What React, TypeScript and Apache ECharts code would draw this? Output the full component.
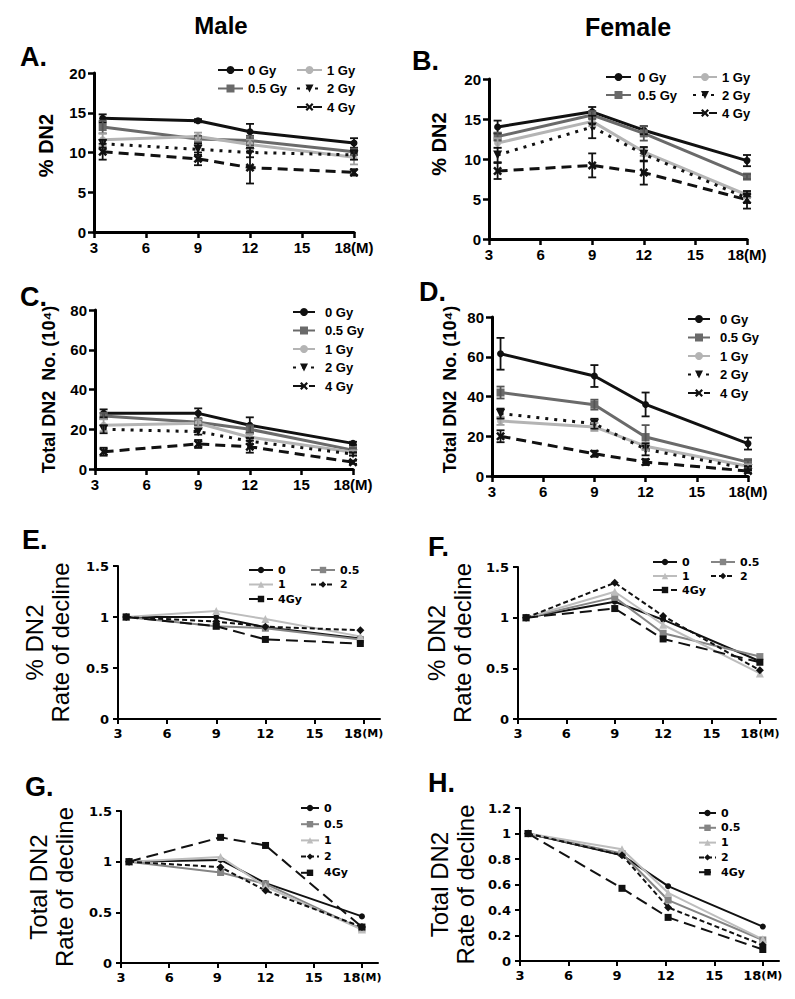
import React, { useEffect, useRef } from "react";
import * as echarts from "echarts";

// ---------------- data ----------------
const xTicks = [3, 6, 9, 12, 15, 18];
const monthsAD = [3.5, 9, 12, 18];
const monthsE = [3.5, 9, 12, 17.8];
const monthsF = [3.5, 9, 12, 18];
const monthsG = [3.5, 9.2, 12, 18];
const monthsH = [3.5, 9.3, 12.15, 18];

const doseLabelsAD = ["0 Gy", "0.5 Gy", "1 Gy", "2 Gy", "4 Gy"];
const doseLabelsEH = ["0", "0.5", "1", "2", "4Gy"];

// A. Male % DN2
const maleDN2Mean = [
  [14.3, 14.0, 12.6, 11.2],
  [13.2, 11.7, 11.5, 10.1],
  [11.6, 12.0, 11.0, 9.4],
  [11.1, 10.4, 10.0, 9.7],
  [10.1, 9.2, 8.1, 7.5],
];
const maleDN2Err = [
  [0.5, 0.2, 1.0, 0.6],
  [0.8, 0.4, 0.6, 0.4],
  [0.8, 0.5, 0.6, 0.9],
  [0.5, 0.7, 0.6, 0.6],
  [1.0, 0.8, 2.0, 0.4],
];
// B. Female % DN2
const femaleDN2Mean = [
  [14.0, 15.9, 13.6, 9.8],
  [12.8, 15.5, 13.2, 7.8],
  [12.0, 14.7, 10.9, 5.5],
  [10.5, 14.0, 10.6, 5.1],
  [8.5, 9.2, 8.3, 4.9],
];
const femaleDN2Err = [
  [0.8, 0.6, 0.5, 0.7],
  [0.5, 0.5, 0.9, 0.3],
  [0.6, 0.6, 0.5, 0.4],
  [0.9, 1.4, 0.9, 0.6],
  [1.0, 1.5, 1.5, 1.1],
];
// C. Male total DN2 number (10^4)
const maleTotalMean = [
  [28.0, 28.0, 22.0, 12.9],
  [26.7, 23.5, 20.0, 9.5],
  [22.0, 23.0, 16.0, 8.4],
  [20.0, 18.8, 14.0, 7.5],
  [8.7, 12.6, 11.2, 3.4],
];
const maleTotalErr = [
  [2.0, 2.5, 4.0, 0.8],
  [1.5, 1.5, 2.0, 1.0],
  [3.0, 2.0, 1.5, 1.0],
  [2.0, 1.5, 1.5, 0.8],
  [2.0, 2.0, 3.0, 0.8],
];
// D. Female total DN2 number (10^4)
const femaleTotalMean = [
  [61.5, 50.3, 36.0, 16.3],
  [42.0, 35.9, 19.6, 7.0],
  [27.7, 24.7, 15.0, 4.9],
  [31.4, 26.3, 13.4, 3.7],
  [20.0, 11.2, 7.0, 2.5],
];
const femaleTotalErr = [
  [8.0, 5.5, 6.0, 3.0],
  [3.0, 2.5, 6.0, 1.0],
  [2.0, 2.0, 2.0, 1.0],
  [2.5, 2.5, 3.0, 1.0],
  [3.0, 1.5, 1.5, 1.0],
];
// E. Male % DN2 rate of decline
const maleDN2Rate = [
  [1.0, 1.0, 0.9, 0.79],
  [1.0, 0.91, 0.89, 0.78],
  [1.0, 1.06, 0.98, 0.81],
  [1.0, 0.955, 0.905, 0.87],
  [1.0, 0.91, 0.78, 0.74],
];
// F. Female % DN2 rate of decline
const femaleDN2Rate = [
  [1.0, 1.157, 0.98, 0.57],
  [1.0, 1.2, 0.846, 0.616],
  [1.0, 1.256, 0.93, 0.45],
  [1.0, 1.344, 1.016, 0.48],
  [1.0, 1.09, 0.79, 0.56],
];
// G. Male total DN2 rate of decline
const maleTotalRate = [
  [1.0, 1.017, 0.788, 0.46],
  [1.0, 0.893, 0.78, 0.335],
  [1.0, 1.047, 0.755, 0.33],
  [1.0, 0.945, 0.715, 0.355],
  [1.0, 1.24, 1.16, 0.355],
];
// H. Female total DN2 rate of decline
const femaleTotalRate = [
  [1.0, 0.83, 0.587, 0.27],
  [1.0, 0.843, 0.478, 0.165],
  [1.0, 0.877, 0.535, 0.17],
  [1.0, 0.83, 0.42, 0.125],
  [1.0, 0.57, 0.342, 0.09],
];

// ---------------- styles ----------------
const ARIAL = "'Liberation Sans', Arial, Helvetica, sans-serif";
const WIDE = "'DejaVu Sans', Verdana, sans-serif";
const X_PATH = "path://M0,2L2,0L5,3L8,0L10,2L7,5L10,8L8,10L5,7L2,10L0,8L3,5Z";

const AD_STYLE: any[] = [
  { color: "#111111", dash: "solid", symbol: "circle", size: 7, rotate: 0 },
  { color: "#6a6a6a", dash: "solid", symbol: "rect", size: 8, rotate: 0 },
  { color: "#b4b4b4", dash: "solid", symbol: "circle", size: 7, rotate: 0 },
  { color: "#111111", dash: [3, 6], symbol: "triangle", size: 9, rotate: 180 },
  { color: "#111111", dash: [10, 6], symbol: X_PATH, size: 9, rotate: 0 },
];
const EH_STYLE: any[] = [
  { color: "#111111", dash: "solid", symbol: "circle", size: 6, rotate: 0 },
  { color: "#858585", dash: "solid", symbol: "rect", size: 7, rotate: 0 },
  { color: "#bdbdbd", dash: "solid", symbol: "triangle", size: 8, rotate: 0 },
  { color: "#111111", dash: [5, 3], symbol: "diamond", size: 8, rotate: 0 },
  { color: "#111111", dash: [12, 6], symbol: "rect", size: 7, rotate: 0 },
];

const panels: any[] = [
  { grid: { left: 94, top: 73, width: 260, height: 159 }, xs: monthsAD, means: maleDN2Mean, errs: maleDN2Err, big: true, xMax: 18, yMax: 20, yInt: 5, name: "% DN2", nameSize: 20, nameGap: 38, namePad: 14 },
  { grid: { left: 489, top: 79, width: 258, height: 160 }, xs: monthsAD, means: femaleDN2Mean, errs: femaleDN2Err, big: true, xMax: 18, yMax: 20, yInt: 5, name: "% DN2", nameSize: 20, nameGap: 40, namePad: 30 },
  { grid: { left: 95, top: 310, width: 258, height: 159 }, xs: monthsAD, means: maleTotalMean, errs: maleTotalErr, big: true, xMax: 18, yMax: 80, yInt: 20, name: "Total DN2  No. (10\u2074)", nameSize: 18, nameGap: 37, namePad: 0 },
  { grid: { left: 492, top: 317, width: 256, height: 159 }, xs: monthsAD, means: femaleTotalMean, errs: femaleTotalErr, big: true, xMax: 18, yMax: 80, yInt: 20, name: "Total DN2  No. (10\u2074)", nameSize: 18, nameGap: 33, namePad: 14 },
  { grid: { left: 118, top: 566, width: 262, height: 153 }, xs: monthsE, means: maleDN2Rate, big: false, xMax: 19, yMax: 1.5, yInt: 0.5, name: "% DN2\nRate of decline", nameSize: 24, nameGap: 45, namePad: 0 },
  { grid: { left: 518, top: 567, width: 258, height: 152 }, xs: monthsF, means: femaleDN2Rate, big: false, xMax: 19, yMax: 1.5, yInt: 0.5, name: "% DN2\nRate of decline", nameSize: 24, nameGap: 43, namePad: 0 },
  { grid: { left: 121, top: 811, width: 257, height: 152 }, xs: monthsG, means: maleTotalRate, big: false, xMax: 19, yMax: 1.5, yInt: 0.5, name: "Total DN2\nRate of decline", nameSize: 24, nameGap: 44, namePad: 0 },
  { grid: { left: 520, top: 808, width: 259, height: 153 }, xs: monthsH, means: femaleTotalRate, big: false, xMax: 19, yMax: 1.2, yInt: 0.2, name: "Total DN2\nRate of decline", nameSize: 24, nameGap: 42, namePad: 0 },
];

function buildOption() {
  const grid: any[] = [];
  const xAxis: any[] = [];
  const yAxis: any[] = [];
  const series: any[] = [];

  panels.forEach((p, i) => {
    const big = p.big;
    grid.push({ ...p.grid, containLabel: false });
    const labelFont = big
      ? { fontFamily: ARIAL, fontWeight: "bold", fontSize: 15 }
      : { fontFamily: WIDE, fontWeight: "bold", fontSize: 13 };
    xAxis.push({
      type: "value",
      gridIndex: i,
      min: 3,
      max: p.xMax,
      interval: 3,
      axisLine: { show: true, onZero: false, lineStyle: { color: "#000", width: big ? 3 : 2 } },
      axisTick: { show: true, inside: false, length: big ? 6 : 5, customValues: xTicks, lineStyle: { color: "#000", width: big ? 2.5 : 2 } },
      axisLabel: {
        show: true,
        customValues: xTicks,
        margin: 8,
        color: "#000",
        ...labelFont,
        formatter: (v: number) => (v === 18 ? "18{m|(M)}" : String(v)),
        rich: {
          m: big
            ? { fontFamily: ARIAL, fontWeight: "bold", fontSize: 15, color: "#000" }
            : { fontFamily: WIDE, fontWeight: "bold", fontSize: 11, color: "#000" },
        },
      },
      splitLine: { show: false },
    });
    yAxis.push({
      type: "value",
      gridIndex: i,
      min: 0,
      max: p.yMax,
      interval: p.yInt,
      name: p.name,
      nameLocation: "middle",
      nameRotate: 90,
      nameGap: p.nameGap,
      nameTextStyle: big
        ? { fontFamily: ARIAL, fontWeight: "bold", fontSize: p.nameSize, color: "#000", padding: [0, 0, 0, p.namePad] }
        : { fontFamily: ARIAL, fontWeight: "normal", fontSize: p.nameSize, lineHeight: 26, color: "#000", padding: [0, 0, 0, p.namePad] },
      axisLine: { show: true, onZero: false, lineStyle: { color: "#000", width: big ? 3 : 2 } },
      axisTick: { show: true, inside: false, length: big ? 6 : 5, lineStyle: { color: "#000", width: big ? 2.5 : 2 } },
      axisLabel: { show: true, margin: big ? 8 : 9, color: "#000", ...labelFont },
      splitLine: { show: false },
    });

    const names = big ? doseLabelsAD : doseLabelsEH;
    const styles = big ? AD_STYLE : EH_STYLE;
    p.means.forEach((vals: number[], k: number) => {
      const st = styles[k];
      series.push({
        type: "line",
        name: names[k],
        xAxisIndex: i,
        yAxisIndex: i,
        data: p.xs.map((x: number, j: number) => [x, vals[j]]),
        symbol: st.symbol,
        symbolSize: st.size,
        symbolRotate: st.rotate,
        showSymbol: true,
        lineStyle: { color: st.color, width: big ? 3 : 2, type: st.dash },
        itemStyle: { color: st.color },
        silent: true,
        z: 2 + (big ? 0 : k === 4 ? 1 : 0),
      });
      if (p.errs) {
        const errs = p.errs[k];
        series.push({
          type: "custom",
          name: "err-" + i + "-" + k,
          xAxisIndex: i,
          yAxisIndex: i,
          data: p.xs.map((x: number, j: number) => [x, vals[j], errs[j]]),
          encode: { x: 0, y: 1 },
          silent: true,
          z: 3,
          renderItem: (params: any, api: any) => {
            const x = api.value(0);
            const y = api.value(1);
            const e = api.value(2);
            const hi = api.coord([x, y + e]);
            const lo = api.coord([x, y - e]);
            const w = 4;
            const s = { stroke: k === 2 ? "#a0a0a0" : k === 1 ? "#555" : "#111", lineWidth: 1.8 };
            return {
              type: "group",
              children: [
                { type: "line", shape: { x1: hi[0], y1: hi[1], x2: lo[0], y2: lo[1] }, style: s },
                { type: "line", shape: { x1: hi[0] - w, y1: hi[1], x2: hi[0] + w, y2: hi[1] }, style: s },
                { type: "line", shape: { x1: lo[0] - w, y1: lo[1], x2: lo[0] + w, y2: lo[1] }, style: s },
              ],
            };
          },
        });
      }
    });
  });

  const mkLegend = (names: string[], left: number, firstRow: number, spacing: number, big: boolean, itemWidth: number, textPad = 0) => {
    const fs = big ? 13 : 11;
    const rowH = fs;
    return {
      data: names,
      orient: "vertical",
      left,
      top: firstRow - rowH / 2,
      padding: 0,
      itemGap: spacing - rowH,
      itemWidth,
      itemHeight: big ? 10 : 8,
      selectedMode: false,
      textStyle: {
        fontFamily: big ? ARIAL : WIDE,
        fontWeight: "bold",
        fontSize: fs,
        color: "#000",
        padding: [0, 0, 0, textPad],
      },
    };
  };

  const legend = [
    mkLegend(["0 Gy", "0.5 Gy"], 217, 70, 18.5, true, 25),
    mkLegend(["1 Gy", "2 Gy", "4 Gy"], 296, 70, 18.5, true, 25),
    mkLegend(["0 Gy", "0.5 Gy"], 605, 77, 18, true, 25, 2),
    mkLegend(["1 Gy", "2 Gy", "4 Gy"], 692, 77, 18, true, 24),
    mkLegend(doseLabelsAD, 292, 312, 18.5, true, 22, 5),
    mkLegend(doseLabelsAD, 687, 319, 18.5, true, 22, 5),
    mkLegend(["0", "1", "4Gy"], 248, 570, 14.5, false, 24),
    mkLegend(["0.5", "2"], 310, 570, 14.5, false, 24),
    mkLegend(["0", "1", "4Gy"], 652, 562, 14, false, 24),
    mkLegend(["0.5", "2"], 710, 562, 14, false, 24),
    mkLegend(doseLabelsEH, 300, 808, 16.2, false, 18),
    mkLegend(doseLabelsEH, 698, 813, 14.8, false, 17),
  ];

  const txt = (text: string, x: number, y: number, size: number, align = "left") => ({
    type: "text",
    x,
    y,
    silent: true,
    style: {
      text,
      fill: "#000",
      font: `bold ${size}px ${ARIAL}`,
      fontFamily: ARIAL,
      fontWeight: "bold",
      fontSize: size,
      align,
      textAlign: align,
      verticalAlign: "middle",
      textVerticalAlign: "middle",
    },
  });

  const graphic = [
    txt("Male", 221, 25, 24, "center"),
    txt("Female", 628, 27, 25, "center"),
    txt("A.", 20, 57, 27),
    txt("B.", 412, 61, 27),
    txt("C.", 20, 297, 27),
    txt("D.", 419, 292, 27),
    txt("E.", 22, 540, 27),
    txt("F.", 428, 547, 27),
    txt("G.", 25, 787, 27),
    txt("H.", 428, 783, 27),
  ];

  return {
    animation: false,
    backgroundColor: "#ffffff",
    grid,
    xAxis,
    yAxis,
    series,
    legend,
    graphic,
  };
}

export default function App() {
  const ref = useRef<HTMLDivElement>(null);
  useEffect(() => {
    if (!ref.current) return;
    const chart = echarts.init(ref.current, null, { renderer: "svg" });
    chart.setOption(buildOption() as any);
    return () => chart.dispose();
  }, []);
  return (
    <div
      ref={ref}
      style={{ position: "absolute", left: 0, top: 0, width: 795, height: 999 }}
    />
  );
}
